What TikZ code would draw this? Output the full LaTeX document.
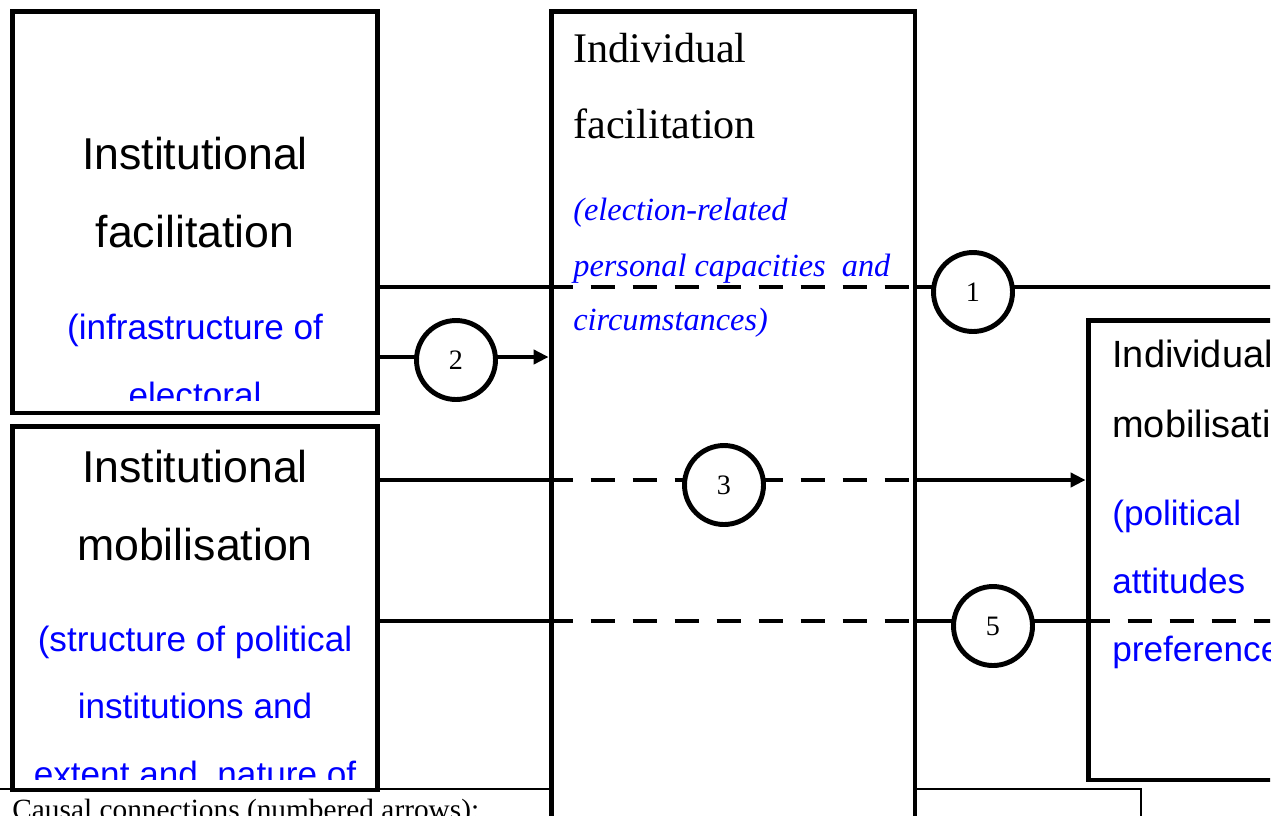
\documentclass[tikz,border=0pt]{standalone}
\usepackage{fontspec}
\setmainfont{Liberation Serif}
\newfontfamily\boxfont{Liberation Sans}
\usetikzlibrary{arrows.meta,positioning,calc}

\begin{document}
\begin{tikzpicture}[x=0.02cm,y=-0.02cm,>={Triangle[length=8.5pt,width=8pt]},
  bigbox/.style={draw,line width=2.8pt,fill=white,inner sep=0pt},
  stitle/.style={font=\boxfont\fontsize{25.4}{30}\selectfont,anchor=base},
  dtitle/.style={font=\boxfont\fontsize{21.6}{26}\selectfont,anchor=base west,inner sep=0pt},
  sdesc/.style={font=\boxfont\fontsize{20}{24}\selectfont,text=blue,anchor=base},
  ctitle/.style={font=\fontsize{24}{28}\selectfont,anchor=base west,inner sep=0pt},
  cdesc/.style={font=\itshape\fontsize{18.4}{22}\selectfont,text=blue,anchor=base west,inner sep=0pt},
  link/.style={line width=2.8pt},
  dlink/.style={link,dash pattern=on 13.7pt off 10.2pt},
  num/.style={circle,draw,line width=2.8pt,fill=white,minimum size=1.58cm,inner sep=0pt,
    font=\fontsize{16}{18}\selectfont}]
  \useasboundingbox (0,0) rectangle (1287,815);
  \clip (0,0) rectangle (1270,815);

  % legend frame below the boxes
  \draw[line width=1.1pt] (-5,789) rectangle (1141,900);
  \node[font=\fontsize{16.7}{20}\selectfont,anchor=base west,inner sep=0pt] (legend) at (12,819)
    {Causal connections (numbered arrows):};

  % the four blocks
  \node[bigbox,minimum width=7.3cm,minimum height=8.04cm] (instfac) at (195,212) {};
  \node[bigbox,minimum width=7.3cm,minimum height=7.28cm] (instmob) at (195,608) {};
  \node[bigbox,minimum width=7.28cm,minimum height=17.8cm] (indfac) at (733,456) {};
  \node[bigbox,minimum width=6.4cm,minimum height=9.2cm] (indmob) at (1248,550) {};

  \begin{scope}
    \clip ([shift={(6,-15)}]instfac.south west) rectangle ([shift={(-6,6)}]instfac.north east);
    \foreach \y/\t [count=\k] in {169/Institutional,247/facilitation}
      \node[stitle] (ift\k) at (195,\y) {\t};
    \foreach \y/\t [count=\k] in {339/(infrastructure of,407/electoral}
      \node[sdesc] (ifd\k) at (195,\y) {\t};
  \end{scope}
  \begin{scope}
    \clip ([shift={(6,-13)}]instmob.south west) rectangle ([shift={(-6,6)}]instmob.north east);
    \foreach \y/\t [count=\k] in {482/Institutional,560/mobilisation}
      \node[stitle] (imt\k) at (195,\y) {\t};
    \foreach \y/\t [count=\k] in {651/(structure of political,718/institutions and,786/extent and~ nature of}
      \node[sdesc] (imd\k) at (195,\y) {\t};
  \end{scope}

  \foreach \y/\t [count=\k] in {62/Individual,138/facilitation}
    \node[ctitle] (pft\k) at (573,\y) {\t};
  \foreach \y/\t [count=\k] in {220/(election-related,276/personal capacities~ and,330/circumstances)}
    \node[cdesc] (pfd\k) at (573,\y) {\t};

  \foreach \y/\t [count=\k] in {367/Individual,437/mobilisation}
    \node[dtitle] (pmt\k) at (1112,\y) {\t};
  \foreach \y/\t [count=\k] in {525/(political,593/attitudes,661/preferences}
    \node[sdesc,anchor=base west,inner sep=0pt] (pmd\k) at (1112,\y) {\t};

  % rows of the connections
  \coordinate (r1) at (0,287);
  \coordinate (r2) at (0,357);
  \coordinate (r3) at (0,480);
  \coordinate (r5) at (0,621);
  \coordinate (rim) at (1300,0);

  \draw[link] (instfac.east |- r1) -- (indfac.west |- r1);
  \draw[dlink] (indfac.west |- r1) -- (indfac.east |- r1);
  \draw[link] (indfac.east |- r1) -- (rim |- r1);

  \draw[link,->] (instfac.east |- r2) -- (indfac.west |- r2);

  \draw[link] (instmob.east |- r3) -- (indfac.west |- r3);
  \draw[dlink] (indfac.west |- r3) -- (indfac.east |- r3);
  \draw[link,->] (indfac.east |- r3) -- (indmob.west |- r3);

  \draw[link] (instmob.east |- r5) -- (indfac.west |- r5);
  \draw[dlink] (indfac.west |- r5) -- (indfac.east |- r5);
  \draw[link] (indfac.east |- r5) -- (indmob.west |- r5);
  \draw[dlink] (indmob.west |- r5) -- (rim |- r5);

  % numbered circles
  \node[num] (n1) at (973,292) {1};
  \node[num] (n2) at (456,360) {2};
  \node[num] (n3) at (724,485) {3};
  \node[num] (n5) at (993,626) {5};
\end{tikzpicture}
\end{document}
